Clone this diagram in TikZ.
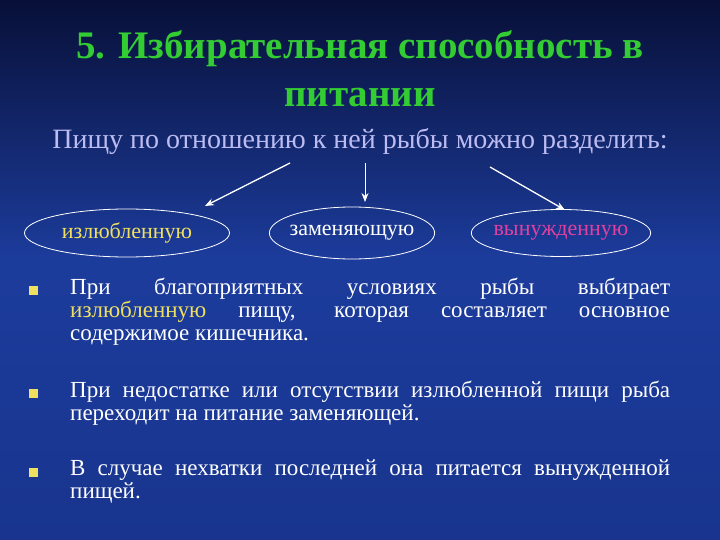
\documentclass[tikz,border=0pt]{standalone}
\usepackage{fontspec}
\setmainfont{Liberation Serif}
\usetikzlibrary{shapes.geometric,arrows.meta}
\definecolor{ttl}{HTML}{33CC33}
\definecolor{sub}{HTML}{BCBCF2}
\definecolor{yel}{HTML}{F0E060}
\definecolor{mag}{HTML}{E040A0}
\definecolor{bgtop}{HTML}{081038}
\definecolor{bgmid}{HTML}{1C3C9C}
\definecolor{bgbot}{HTML}{18348E}
\tikzset{
 oval/.style={ellipse,draw=white,line width=0.8pt,inner sep=-4pt,font=\fontsize{22}{22}\selectfont},
 arr/.style={draw=white,line width=1.3pt,-{Stealth[length=9pt,width=7pt]}},
 para/.style={anchor=north west,text width=600pt,align=justify,text=white,font=\fontsize{23}{23}\selectfont,inner sep=0pt},
 bul/.style={fill=yel,minimum size=9pt,inner sep=0pt}
}
\begin{document}
\begin{tikzpicture}[x=1pt,y=-1pt]
\useasboundingbox (0,0) rectangle (720,540);
\shade[top color=bgtop,bottom color=bgmid] (0,0) rectangle (720,260);
\shade[top color=bgmid,bottom color=bgbot] (0,260) rectangle (720,540);
\node[text=ttl,font=\bfseries\fontsize{39}{48}\selectfont,align=center] (title) at (360,69) {5. Избирательная способность в\\питании};
\node[text=sub,font=\fontsize{28}{30}\selectfont] (subt) at (360,142) {Пищу по отношению к ней рыбы можно разделить:};
\node[oval,minimum width=205pt,minimum height=48pt,text=yel] (e1) at (127,233) {излюбленную};
\node[oval,minimum width=160pt,minimum height=52pt,text=white] (e2) at (352,233) {заменяющую};
\node[oval,minimum width=178pt,minimum height=47pt,text=mag] (e3) at (561,233) {вынужденную};
\coordinate (a1) at (290,163); \coordinate (a2) at (365,163); \coordinate (a3) at (490,167);
\coordinate (b1) at (205,206); \coordinate (b2) at (365,202); \coordinate (b3) at (565,210);
\draw[arr] (a1) -- (b1);
\draw[arr,line width=0.8pt] (a2) -- (b2);
\draw[arr] (a3) -- (b3);
\node[bul] (q1) at (33,290) {};
\node[bul] (q2) at (33,393) {};
\node[bul] (q3) at (33,472) {};
\node[para] (p1) at (70,278) {При благоприятных условиях рыбы выбирает\linebreak \textcolor{yel}{излюбленную} пищу, которая составляет основное\linebreak содержимое кишечника.};
\node[para] (p2) at (70,381) {При недостатке или отсутствии излюбленной пищи рыба переходит на питание заменяющей.};
\node[para] (p3) at (70,460) {В случае нехватки последней она питается вынужденной пищей.};
\end{tikzpicture}
\end{document}
